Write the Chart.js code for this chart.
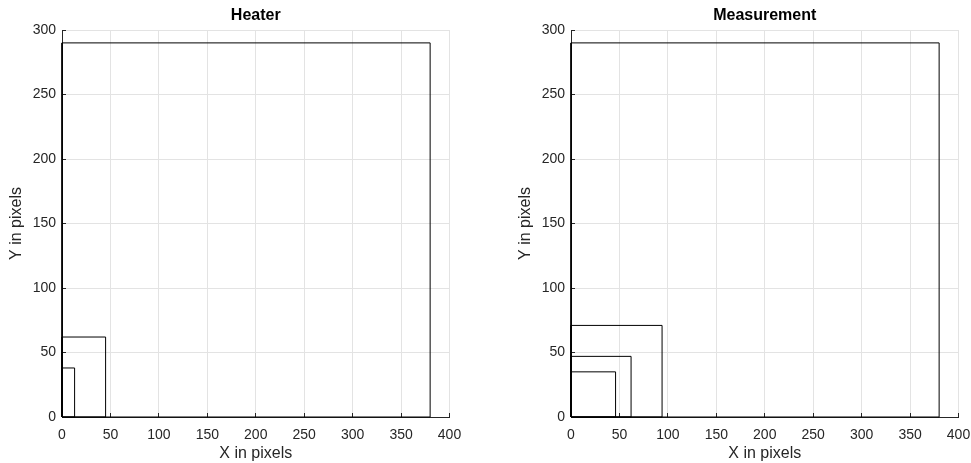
<!DOCTYPE html>
<html>
<head>
<meta charset="utf-8">
<script src="https://cdn.jsdelivr.net/npm/chart.js@4/dist/chart.umd.min.js"></script>
<style>
  html, body { margin: 0; padding: 0; background: #fff; overflow: hidden; }
  #wrap { position: relative; width: 971px; height: 463px; overflow: hidden; }
  .box { position: absolute; top: 0; width: 480px; height: 463px; }
</style>
</head>
<body>
<div id="wrap">
  <div class="box" style="left:0px"><canvas id="heater"></canvas></div>
  <div class="box" style="left:509px"><canvas id="measurement"></canvas></div>
</div>
<script>
// rectangle sizes, in pixels (width x height, all anchored at 0,0)
var heaterW = [380, 45, 13];
var heaterH = [290, 62, 38];
var measW = [380, 94, 62, 46];
var measH = [290, 71, 47, 35];

var xTicks = [0, 50, 100, 150, 200, 250, 300, 350, 400];
var yTicks = [0, 50, 100, 150, 200, 250, 300];

var FONT = "'Liberation Sans', Arial, Helvetica, sans-serif";
var AXIS = '#262626';
var GRID = '#e3e3e3';

// draws the title centred over the plot area, like the original figure
var boxTitle = {
	id: 'boxTitle',
	afterDraw: function(chart, args, opts) {
		var ctx = chart.ctx;
		var a = chart.chartArea;
		ctx.save();
		ctx.font = 'bold 16px ' + FONT;
		ctx.fillStyle = '#000';
		ctx.textAlign = 'center';
		ctx.textBaseline = 'middle';
		ctx.fillText(opts.text, (a.left + a.right) / 2, 16);
		ctx.restore();
	}
};

function rects(ws, hs) {
	var sets = [];
	for (let i in ws) {
		sets.push({
			data: [
				{x: 0, y: 0}, {x: ws[i], y: 0}, {x: ws[i], y: hs[i]},
				{x: 0, y: hs[i]}, {x: 0, y: 0}
			],
			showLine: true,
			borderColor: '#000',
			borderWidth: 1,
			pointRadius: 0,
			fill: false,
			clip: 3
		});
	}
	return sets;
}

function makeChart(id, title, ws, hs) {
	var ctx = document.getElementById(id);
	return new Chart(ctx, {
		type: 'scatter',
		data: { datasets: rects(ws, hs) },
		plugins: [boxTitle],
		options: {
			responsive: true,
			maintainAspectRatio: false,
			animation: false,
			layout: { padding: { top: 30, right: 30.5, bottom: 0, left: 0 } },
			plugins: {
				legend: { display: false },
				tooltip: { enabled: false },
				boxTitle: { text: title }
			},
			scales: {
				x: {
					type: 'linear',
					min: 0, max: 400,
					afterBuildTicks: function(s) { s.ticks = xTicks.map(v => ({value: v})); },
					afterFit: function(s) { s.height = 46; },
					grid: { color: GRID, tickColor: AXIS, tickLength: -4 },
					border: { color: AXIS, width: 1 },
					ticks: { color: AXIS, padding: 13.5, maxRotation: 0, font: { family: FONT, size: 14 } },
					title: {
						display: true, text: 'X in pixels', color: AXIS,
						padding: { top: 0, bottom: 0 },
						font: { family: FONT, size: 16 }
					}
				},
				y: {
					type: 'linear',
					min: 0, max: 300,
					afterBuildTicks: function(s) { s.ticks = yTicks.map(v => ({value: v})); },
					afterFit: function(s) { s.width = 62; },
					grid: { color: GRID, tickColor: AXIS, tickLength: -4 },
					border: { color: AXIS, width: 1 },
					ticks: { color: AXIS, padding: 10, font: { family: FONT, size: 14 } },
					title: {
						display: true, text: 'Y in pixels', color: AXIS,
						padding: { top: 7, bottom: 7 },
						font: { family: FONT, size: 16 }
					}
				}
			}
		}
	});
}

makeChart('heater', 'Heater', heaterW, heaterH);
makeChart('measurement', 'Measurement', measW, measH);
</script>
</body>
</html>
